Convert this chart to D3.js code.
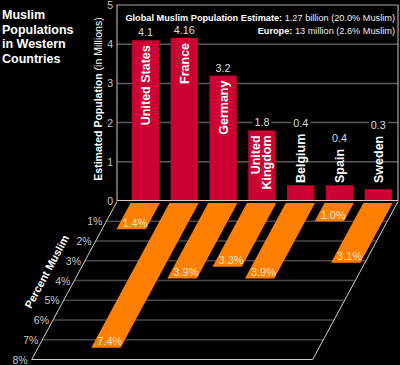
<!DOCTYPE html>
<html><head><meta charset="utf-8">
<script src="https://cdn.jsdelivr.net/npm/d3@7"></script>
<style>html,body{margin:0;padding:0;background:#000;} svg{display:block;font-family:"Liberation Sans",Arial,sans-serif;}</style>
</head><body>
<svg id="chart" width="400" height="365"></svg>
<script>
const countries = ["United States","France","Germany","United Kingdom","Belgium","Spain","Sweden"];
const nameLines = [["United States"],["France"],["Germany"],["United","Kingdom"],["Belgium"],["Spain"],["Sweden"]];
const populations = [4.1,4.16,3.2,1.8,0.4,0.4,0.3];
const populationLabels = ["4.1","4.16","3.2","1.8","0.4","0.4","0.3"];
const percents = [1.4,7.4,3.9,3.3,3.9,1.0,3.1];
const percentLabels = ["1.4%","7.4%","3.9%","3.3%","3.9%","1.0%","3.1%"];
const popTicks = [0,1,2,3,4,5];
const pctTicks = [1,2,3,4,5,6,7,8];
const titleLines = ["Muslim","Populations","in Western","Countries"];
const noteBold = ["Global Muslim Population Estimate:","Europe:"];
const noteText = [" 1.27 billion (20.0% Muslim)"," 13 million (2.6% Muslim)"];

const svg = d3.select("#chart");
svg.append("rect").attr("width",400).attr("height",365).attr("fill","#000");

const X0 = 117, X1 = 398;
const x = d3.scaleBand().domain(countries).range([X0, X1])
  .paddingInner(0.296).paddingOuter(0.27).align(0.71);
const y = d3.scaleLinear().domain([0,5]).range([201,5]);
const z = d3.scaleLinear().domain([0,8]).range([201.5,359.5]);
const slant = 0.54;
const sh = p => (z(p) - z(0)) * slant;
const bw = x.bandwidth();

// ---- Title
const title = svg.append("text").attr("fill","#fff").attr("font-weight","bold").attr("font-size",12.5);
titleLines.forEach((t,i)=> title.append("tspan").attr("x",2).attr("y",19 + i*14.7).text(t));

// ---- Floor
const pMax = pctTicks[pctTicks.length-1];
svg.append("g").selectAll("line").data(pctTicks.slice(0,-1)).join("line")
  .attr("x1", p => X0 - sh(p)).attr("x2", p => X1 - sh(p))
  .attr("y1", p => z(p)).attr("y2", p => z(p))
  .attr("stroke","#4a4a4a").attr("stroke-width",1.5);

svg.append("path")
  .attr("d", `M${X0},${z(0)}L${X0 - sh(pMax)},${z(pMax)}L${X1 - sh(pMax)},${z(pMax)}L${X1},${z(0)}`)
  .attr("fill","none").attr("stroke","#d0d0d0").attr("stroke-width",1);

svg.append("g").selectAll("text").data(pctTicks).join("text")
  .attr("x", p => X0 - sh(p) - 4).attr("y", p => z(p) + 4)
  .attr("text-anchor","end").attr("font-size",10.5).attr("fill","#c8c8c8")
  .text(p => p + "%");

// Percent Muslim axis title
const ang = -Math.atan2(1, slant) * 180 / Math.PI;
svg.append("text")
  .attr("transform", `translate(${X0 - sh(4.2) - 22},${z(4.2) - 11}) rotate(${ang})`)
  .attr("text-anchor","middle").attr("font-weight","bold").attr("font-size",11).attr("fill","#fff")
  .text("Percent Muslim");

// Orange depth bars
const og = svg.append("g");
countries.forEach((c,i)=>{
  const p = percents[i];
  const l = x(c) - 0.5, r = x(c) + bw + 1.5;
  const yt = z(0) + 1.5, yb = z(p);
  const st = (yt - z(0)) * slant, sb = sh(p);
  og.append("path")
    .attr("d", `M${l - st},${yt}L${r - st},${yt}L${r - sb},${yb}L${l - sb},${yb}Z`)
    .attr("fill","#ff8000");
  og.append("text").attr("x", l - sb + 6).attr("y", yb - 2.5)
    .attr("font-size",11).attr("fill","#ffe6c8").text(percentLabels[i]);
});

// ---- Top panel grid
svg.append("g").selectAll("line").data(popTicks.filter(t=>t>0 && t<5)).join("line")
  .attr("x1",X0).attr("x2",X1).attr("y1",d=>y(d)).attr("y2",d=>y(d))
  .attr("stroke","#5a5a5a").attr("stroke-width",1.5);
svg.append("path")
  .attr("d", `M${X0},${y(0)}L${X0},${y(5)}L${X1},${y(5)}L${X1},${y(0)}`)
  .attr("fill","none").attr("stroke","#a8a8a8").attr("stroke-width",1.2);

svg.append("g").selectAll("text").data(popTicks).join("text")
  .attr("x",113).attr("y",d=>y(d)+4).attr("text-anchor","end")
  .attr("font-size",10.5).attr("fill","#c8c8c8").text(d=>d);

// Y axis title
const yt = svg.append("text")
  .attr("transform","translate(101.5,99) rotate(-90)")
  .attr("text-anchor","middle").attr("font-size",10.5).attr("fill","#fff");
yt.append("tspan").attr("font-weight","bold").text("Estimated Population");
yt.append("tspan").text(" (in Millions)");

// Note
noteBold.forEach((b,i)=>{
  const t = svg.append("text").attr("x",395).attr("y",21 + i*13)
    .attr("text-anchor","end").attr("font-size",9.2).attr("fill","#fff");
  t.append("tspan").attr("font-weight","bold").text(b);
  t.append("tspan").attr("fill","#eee").text(noteText[i]);
});

// Bars
const bg = svg.append("g");
countries.forEach((c,i)=>{
  const v = populations[i];
  bg.append("rect").attr("x",x(c)).attr("y",y(v)).attr("width",bw)
    .attr("height",y(0)-y(v)-1).attr("fill","#cc0033");
});
svg.append("line").attr("x1",X0).attr("x2",X1).attr("y1",y(0)-0.5).attr("y2",y(0)-0.5)
  .attr("stroke","#d8c8c8").attr("stroke-width",1);

// Names and value labels
const lg = svg.append("g");
countries.forEach((c,i)=>{
  const v = populations[i];
  const lines = nameLines[i];
  const cx = x(c) + bw/2;
  const texts = lines.map((ln,j)=>{
    const off = lines.length === 1 ? 4.5 : (j === 0 ? -1.5 : 9.5);
    return lg.append("text").attr("font-weight","bold").attr("font-size",12.5)
      .attr("fill","#fff").attr("data-off",off).text(ln);
  });
  const L = d3.max(texts, t => t.node().getComputedTextLength());
  const h = y(0) - y(v);
  let inside = h > L + 10;
  let nameTop;
  texts.forEach(t=>{
    const off = +t.attr("data-off");
    if (inside) {
      t.attr("text-anchor","end").attr("transform",`translate(${cx+off},${y(v)+5}) rotate(-90)`);
    } else {
      t.attr("text-anchor","start").attr("transform",`translate(${cx+off},${y(0)-18}) rotate(-90)`);
    }
  });
  nameTop = inside ? y(v) : (y(0) - 18 - L);
  const base = inside ? y(v) - 4 : Math.min(y(v), nameTop) - 7;
  const lt = lg.append("text").attr("x",cx).attr("y",base).attr("text-anchor","middle")
    .attr("font-size",10.8).attr("fill","#ddd").text(populationLabels[i]);
  const bb = lt.node().getBBox();
  lg.insert("rect", () => lt.node()).attr("x",bb.x-2).attr("y",bb.y).attr("width",bb.width+4)
    .attr("height",bb.height).attr("fill","#000");
});
</script>
</body></html>
